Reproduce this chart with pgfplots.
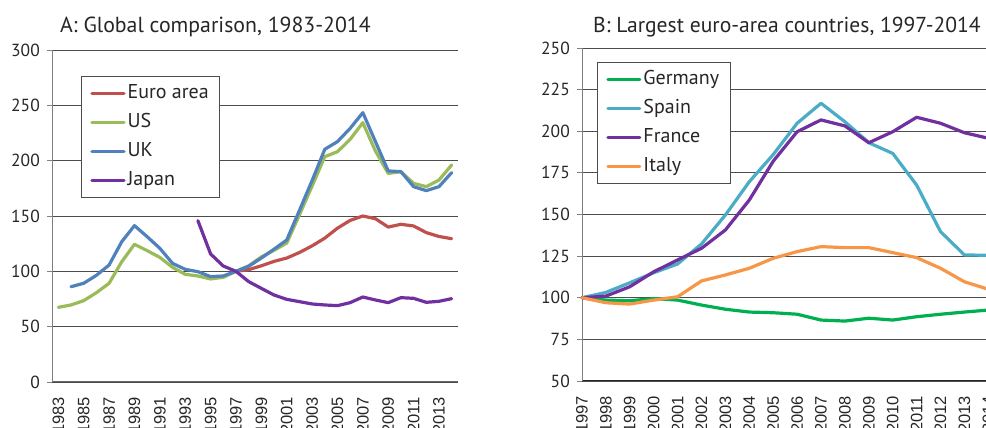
\documentclass[border=0pt]{standalone}
\usepackage{pgfplots}
\pgfplotsset{compat=1.18}
\usepackage{fontspec}
\setmainfont{PT Sans}
\newfontfamily\tickfont{Liberation Sans}
\definecolor{euro}{HTML}{C0504D}
\definecolor{usg}{HTML}{9BBB59}
\definecolor{ukb}{HTML}{4F81BD}
\definecolor{jap}{HTML}{7030A0}
\definecolor{ger}{HTML}{00B050}
\definecolor{spa}{HTML}{4BACC6}
\definecolor{fra}{HTML}{7030A0}
\definecolor{ita}{HTML}{F79646}
\pgfplotsset{
 panel/.style={
  scale only axis, clip=false,
  axis x line*=bottom, axis y line*=left,
  x axis line style={black!60, line width=1pt},
  y axis line style={black!50, line width=1pt},
  ymajorgrids, grid style={black!70, line width=0.8pt},
  tick align=outside, major tick length=5pt,
  xtick style={draw=none},
  ytick style={black!50, line width=0.8pt},
  /pgf/number format/assume math mode=true,
  /pgf/number format/1000 sep={},
  yticklabel style={font=\fontsize{17.5}{20}\selectfont, text=black!85, inner sep=0pt},
  xticklabel style={font=\tickfont\fontsize{16.5}{18}\selectfont, text=black!85, rotate=90, anchor=east, inner sep=0pt},
  yticklabel shift=7pt, xticklabel shift=10pt,
  legend cell align=left,
  legend style={draw=black!70, line width=0.8pt, fill=white, font=\fontsize{20}{23}\selectfont, text=black!85,
    inner xsep=9pt, inner ysep=6pt, row sep=6.5pt,
    nodes={inner sep=2pt, text height=14pt, text depth=4.5pt}},
  legend image code/.code={\draw[##1] (0pt,0pt) -- (32pt,0pt);},
 },
 ser/.style={line width=3.2pt, line join=round, line cap=round, #1},
}
\begin{document}
\begin{tikzpicture}[x=1pt,y=1pt]
\useasboundingbox (0,0) rectangle (986,428);
\clip (0,0) rectangle (986,428);
\node[anchor=base west, inner sep=0pt, font=\fontsize{21.8}{24}\selectfont, text=black!85] at (60,395) {A: Global comparison, 1983-2014};
\node[anchor=base west, inner sep=0pt, font=\fontsize{21.6}{24}\selectfont, text=black!85] at (593,395) {B: Largest euro-area countries, 1997-2014};

\begin{axis}[panel, at={(52pt,46pt)}, anchor=south west, width=406pt, height=332pt,
  xmin=1982.5, xmax=2014.5, ymin=0, ymax=300,
  ytick={0,50,...,300}, xtick={1983,1985,...,2013},
  legend style={at={(rel axis cs:0.0714,0.922)}, anchor=north west}]
\addplot[ser=euro] coordinates {(1997,100)(1998,101.5)(1999,105)(2000,109)(2001,112)(2002,117)(2003,123)(2004,130)(2005,139)(2006,146)(2007,150)(2008,147.5)(2009,140)(2010,142.5)(2011,141)(2012,135)(2013,131.5)(2014,129.5)};
\addlegendentry{Euro area}
\addplot[ser=usg] coordinates {(1983,67.5)(1984,69.6)(1985,73.5)(1986,80.7)(1987,89.2)(1988,108.7)(1989,124.4)(1990,118.7)(1991,112.6)(1992,103.6)(1993,97.3)(1994,95.8)(1995,93.1)(1996,94.6)(1997,100)(1998,105)(1999,113)(2000,119)(2001,125.5)(2002,151)(2003,177)(2004,203.6)(2005,208.1)(2006,219.3)(2007,234.3)(2008,208.5)(2009,188.5)(2010,190)(2011,179.5)(2012,176.5)(2013,182.5)(2014,196.1)};
\addlegendentry{US}
\addplot[ser=ukb] coordinates {(1984,86.1)(1985,89.2)(1986,96.4)(1987,105.7)(1988,126.8)(1989,141.3)(1990,131.3)(1991,120.8)(1992,107.2)(1993,101.8)(1994,99.7)(1995,95.2)(1996,95.8)(1997,100)(1998,104.5)(1999,112)(2000,120)(2001,128.3)(2002,155)(2003,182)(2004,210.3)(2005,217.2)(2006,229.2)(2007,243.4)(2008,217)(2009,190.7)(2010,190.1)(2011,176.5)(2012,172.9)(2013,176.5)(2014,189.2)};
\addlegendentry{UK}
\addplot[ser=jap] coordinates {(1994,145.8)(1995,115.7)(1996,104.8)(1997,100)(1998,90.7)(1999,84.6)(2000,78.6)(2001,74.7)(2002,72.6)(2003,70.5)(2004,69.6)(2005,69)(2006,71.7)(2007,76.8)(2008,74.1)(2009,71.7)(2010,76.2)(2011,75.6)(2012,72)(2013,72.9)(2014,75.3)};
\addlegendentry{Japan}
\end{axis}

\begin{axis}[panel, at={(582pt,47pt)}, anchor=south west, width=413.5pt, height=333pt,
  xmin=1997, xmax=2014.3, ymin=50, ymax=250,
  ytick={50,75,...,250}, xtick={1997,1998,...,2014},
  x axis line style={black!85, line width=1pt},
  legend style={at={(rel axis cs:0.036,0.958)}, anchor=north west}]
\addplot[ser=ger] coordinates {(1997,100)(1998,98.6)(1999,98.2)(2000,99.5)(2001,98.6)(2002,95.6)(2003,93.1)(2004,91.4)(2005,91)(2006,90.1)(2007,86.6)(2008,86)(2009,87.7)(2010,86.6)(2011,88.6)(2012,90.1)(2013,91.4)(2014,92.6)};
\addlegendentry{Germany}
\addplot[ser=spa] coordinates {(1997,100)(1998,103.2)(1999,109)(2000,115)(2001,120.3)(2002,132.3)(2003,149.7)(2004,169.7)(2005,186)(2006,204.8)(2007,216.8)(2008,205.7)(2009,193.1)(2010,186.7)(2011,167.7)(2012,139.7)(2013,125.7)(2014,125.5)};
\addlegendentry{Spain}
\addplot[ser=fra] coordinates {(1997,100)(1998,101)(1999,106.6)(2000,115.6)(2001,122.7)(2002,129.7)(2003,140.7)(2004,158.7)(2005,182)(2006,199.7)(2007,206.8)(2008,203.2)(2009,193.1)(2010,199.7)(2011,208.4)(2012,204.8)(2013,199.1)(2014,195.8)};
\addlegendentry{France}
\addplot[ser=ita] coordinates {(1997,100)(1998,97)(1999,96.2)(2000,98.6)(2001,100.6)(2002,110.1)(2003,113.7)(2004,117.7)(2005,123.7)(2006,127.7)(2007,130.7)(2008,130.1)(2009,130.1)(2010,127.1)(2011,124.1)(2012,117.7)(2013,109.6)(2014,105.1)};
\addlegendentry{Italy}
\end{axis}
\end{tikzpicture}
\end{document}
